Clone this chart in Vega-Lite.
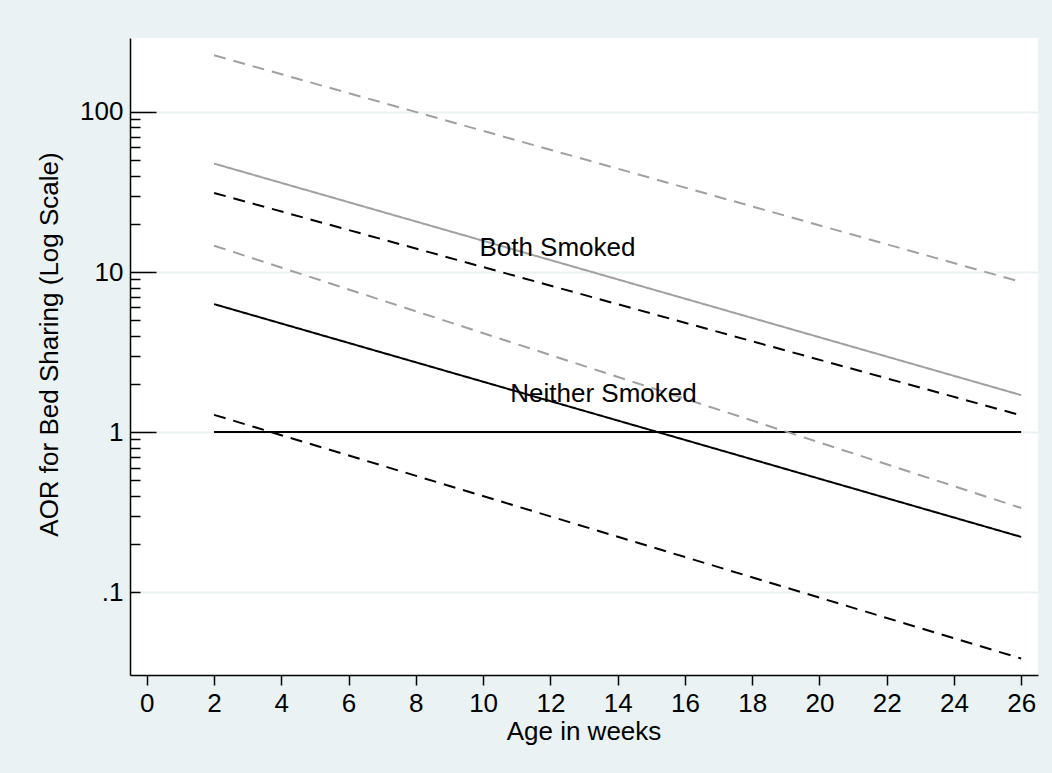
{
  "$schema": "https://vega.github.io/schema/vega-lite/v6.json",
  "width": 908,
  "height": 637,
  "autosize": {"type": "none"},
  "padding": {"left": 130, "top": 38, "right": 14, "bottom": 98},
  "background": "#eaf2f3",
  "config": {
    "view": {"fill": "white", "stroke": null},
    "font": "Liberation Sans",
    "axis": {"labelFont": "Liberation Sans", "titleFont": "Liberation Sans"}
  },
  "layer": [
    {
      "data": {
        "values": [
          {"series": "Neither Smoked (reference)", "week": 2, "aor": 1},
          {"series": "Neither Smoked (reference)", "week": 26, "aor": 1},
          {"series": "Both Smoked", "week": 2, "aor": 47.6},
          {"series": "Both Smoked", "week": 26, "aor": 1.70},
          {"series": "Both Smoked upper CI", "week": 2, "aor": 226},
          {"series": "Both Smoked upper CI", "week": 26, "aor": 8.66},
          {"series": "Both Smoked lower CI", "week": 2, "aor": 14.6},
          {"series": "Both Smoked lower CI", "week": 26, "aor": 0.335},
          {"series": "Black estimate", "week": 2, "aor": 6.3},
          {"series": "Black estimate", "week": 26, "aor": 0.221},
          {"series": "Black upper CI", "week": 2, "aor": 31.2},
          {"series": "Black upper CI", "week": 26, "aor": 1.27},
          {"series": "Black lower CI", "week": 2, "aor": 1.28},
          {"series": "Black lower CI", "week": 26, "aor": 0.0384}
        ]
      },
      "mark": {"type": "line", "strokeWidth": 2, "clip": true},
      "encoding": {
        "x": {
          "field": "week",
          "type": "quantitative",
          "scale": {"domain": [-0.5, 26.5], "nice": false, "zero": false},
          "axis": {
            "values": [0, 2, 4, 6, 8, 10, 12, 14, 16, 18, 20, 22, 24, 26],
            "format": "d",
            "grid": false,
            "domainColor": "black",
            "domainWidth": 1.5,
            "tickColor": "black",
            "tickWidth": 1.5,
            "tickSize": 10,
            "labelFontSize": 26,
            "labelColor": "black",
            "labelPadding": 5,
            "title": "Age in weeks",
            "titleFontSize": 26,
            "titleFontWeight": "normal",
            "titleColor": "black",
            "titleX": 453.5,
            "titleY": 64,
            "titleAlign": "center",
            "titleBaseline": "alphabetic"
          }
        },
        "y": {
          "field": "aor",
          "type": "quantitative",
          "scale": {"type": "log", "domain": [0.0303, 290], "nice": false},
          "axis": {
            "values": [0.1, 0.2, 0.3, 0.4, 0.5, 0.6, 0.7, 0.8, 0.9, 1, 2, 3, 4, 5, 6, 7, 8, 9, 10, 20, 30, 40, 50, 60, 70, 80, 90, 100],
            "labelExpr": "datum.value == 0.1 ? '.1' : datum.value == 1 ? '1' : datum.value == 10 ? '10' : datum.value == 100 ? '100' : ''",
            "grid": true,
            "gridColor": "#eaf2f3",
            "gridWidth": 2,
            "gridOpacity": {"condition": {"test": "datum.value == 0.1 || datum.value == 1 || datum.value == 10 || datum.value == 100", "value": 1}, "value": 0},
            "domainColor": "black",
            "domainWidth": 1.5,
            "tickColor": "black",
            "tickWidth": 1.5,
            "tickSize": {"condition": {"test": "datum.value == 1 || datum.value == 10 || datum.value == 100", "value": -26}, "value": -10},
            "labelPadding": {"condition": {"test": "datum.value == 1 || datum.value == 10 || datum.value == 100", "value": 33}, "value": 17},
            "labelFontSize": 26,
            "labelColor": "black",
            "labelBaseline": "middle",
            "title": "AOR for Bed Sharing (Log Scale)",
            "titleFontSize": 26,
            "titleFontWeight": "normal",
            "titleColor": "black",
            "titleAngle": -90,
            "titleX": -73,
            "titleY": 306,
            "titleAlign": "center",
            "titleBaseline": "alphabetic"
          }
        },
        "detail": {"field": "series"},
        "color": {
          "field": "series",
          "type": "nominal",
          "scale": {
            "domain": ["Neither Smoked (reference)", "Both Smoked", "Both Smoked upper CI", "Both Smoked lower CI", "Black estimate", "Black upper CI", "Black lower CI"],
            "range": ["#000000", "#a0a0a0", "#a0a0a0", "#a0a0a0", "#000000", "#000000", "#000000"]
          },
          "legend": null
        },
        "strokeDash": {
          "field": "series",
          "type": "nominal",
          "scale": {
            "domain": ["Neither Smoked (reference)", "Both Smoked", "Both Smoked upper CI", "Both Smoked lower CI", "Black estimate", "Black upper CI", "Black lower CI"],
            "range": [[1, 0], [1, 0], [12, 8], [12, 8], [1, 0], [12, 8], [12, 8]]
          },
          "legend": null
        }
      }
    },
    {
      "data": {
        "values": [
          {"label": "Both Smoked", "week": 12.21, "aor": 12.5},
          {"label": "Neither Smoked", "week": 13.58, "aor": 1.54}
        ]
      },
      "mark": {"type": "text", "fontSize": 26, "align": "center", "baseline": "alphabetic", "color": "black", "font": "Liberation Sans"},
      "encoding": {
        "x": {"field": "week", "type": "quantitative"},
        "y": {"field": "aor", "type": "quantitative"},
        "text": {"field": "label"}
      }
    }
  ]
}
